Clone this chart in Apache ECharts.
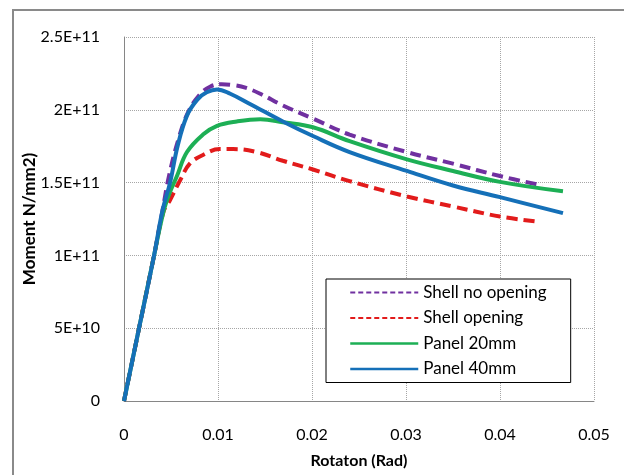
<!DOCTYPE html>
<html>
<head>
<meta charset="utf-8">
<script src="https://cdn.jsdelivr.net/npm/echarts@6/dist/echarts.min.js"></script>
<style>
html,body{margin:0;padding:0;background:#fff;}
#chart{width:624px;height:475px;}
</style>
</head>
<body>
<div id="chart"></div>
<script>
// Data
var seriesNames = ['Shell no opening', 'Shell opening', 'Panel 20mm', 'Panel 40mm'];

var rotShellNo = [0, 0.0016, 0.0032, 0.0041, 0.0048, 0.0058, 0.0068, 0.008, 0.0092, 0.0104, 0.0116, 0.013, 0.0145, 0.0169, 0.0201, 0.024, 0.0301, 0.035, 0.040, 0.0445];
var momShellNo = [0, 5e10, 1e11, 1.31e11, 1.55e11, 1.8e11, 1.98e11, 2.1e11, 2.16e11, 2.175e11, 2.17e11, 2.15e11, 2.11e11, 2.03e11, 1.94e11, 1.83e11, 1.71e11, 1.63e11, 1.545e11, 1.48e11];

var rotShellOpen = [0, 0.0016, 0.0032, 0.0042, 0.0049, 0.006, 0.007, 0.0084, 0.0102, 0.0116, 0.0141, 0.0169, 0.0201, 0.024, 0.0301, 0.035, 0.040, 0.0439];
var momShellOpen = [0, 5e10, 1e11, 1.3e11, 1.38e11, 1.52e11, 1.63e11, 1.69e11, 1.73e11, 1.73e11, 1.71e11, 1.65e11, 1.59e11, 1.51e11, 1.405e11, 1.336e11, 1.267e11, 1.233e11];

var rotPanel20 = [0, 0.0016, 0.0032, 0.0042, 0.0048, 0.0056, 0.0067, 0.0084, 0.0099, 0.012, 0.0145, 0.0169, 0.0201, 0.024, 0.0301, 0.035, 0.040, 0.0467];
var momPanel20 = [0, 5e10, 1e11, 1.3e11, 1.42e11, 1.54e11, 1.71e11, 1.83e11, 1.89e11, 1.92e11, 1.935e11, 1.915e11, 1.88e11, 1.785e11, 1.66e11, 1.58e11, 1.505e11, 1.44e11];

var rotPanel40 = [0, 0.0016, 0.0032, 0.0041, 0.0049, 0.0057, 0.0067, 0.0078, 0.0088, 0.0099, 0.0113, 0.0134, 0.0169, 0.0201, 0.024, 0.0301, 0.035, 0.040, 0.0467];
var momPanel40 = [0, 5e10, 1e11, 1.31e11, 1.5e11, 1.75e11, 1.96e11, 2.07e11, 2.12e11, 2.14e11, 2.11e11, 2.04e11, 1.92e11, 1.82e11, 1.71e11, 1.58e11, 1.48e11, 1.40e11, 1.29e11];

var xTickLabels = ['0', '0.01', '0.02', '0.03', '0.04', '0.05'];
var yTickLabels = ['0', '5E+10', '1E+11', '1.5E+11', '2E+11', '2.5E+11'];

function pairs(xs, ys) {
  var out = [];
  for (var i = 0; i < xs.length; i++) out.push([xs[i], ys[i]]);
  return out;
}

var FONT = 'Lato';
var chart = echarts.init(document.getElementById('chart'), null, {renderer: 'canvas'});

var colors = ['#7030A0', '#E21B1B', '#1DAF55', '#1570B8'];

function mkSeries(name, xs, ys, color, dashed) {
  return {
    name: name,
    type: 'line',
    data: pairs(xs, ys),
    showSymbol: false,
    symbol: 'none',
    smooth: 0.4,
    lineStyle: {color: color, width: 4, type: dashed ? [11, 6] : 'solid', cap: 'butt'},
    itemStyle: {color: color},
    emphasis: {disabled: true},
    animation: false
  };
}

var option = {
  animation: false,
  backgroundColor: '#ffffff',
  graphic: [{
    type: 'rect',
    shape: {x: 13, y: 10, width: 700, height: 600},
    style: {fill: 'none', stroke: '#8a8a8a', lineWidth: 2},
    silent: true,
    z: -10
  }],
  grid: {left: 124, right: 30, top: 37, bottom: 74, containLabel: false},
  xAxis: {
    type: 'value',
    min: 0, max: 0.05, interval: 0.01,
    name: 'Rotaton (Rad)',
    nameLocation: 'middle',
    nameGap: 52,
    nameMoveOverlap: false,
    nameTextStyle: {fontFamily: FONT, fontWeight: 'bold', fontSize: 16, color: '#000'},
    axisLine: {show: true, lineStyle: {color: '#868686', width: 1}},
    axisTick: {show: false},
    axisLabel: {
      fontFamily: FONT, fontSize: 16, color: '#000', margin: 26,
      formatter: function (v) { return xTickLabels[Math.round(v / 0.01)]; }
    },
    splitLine: {show: true, lineStyle: {color: '#a6a6a6', type: [1, 1], width: 1}}
  },
  yAxis: {
    type: 'value',
    min: 0, max: 2.5e11, interval: 5e10,
    name: 'Moment N/mm2)',
    nameLocation: 'middle',
    nameGap: 94,
    nameMoveOverlap: false,
    nameTextStyle: {fontFamily: FONT, fontWeight: 'bold', fontSize: 17, color: '#000', verticalAlign: 'middle'},
    axisLine: {show: true, lineStyle: {color: '#868686', width: 1}},
    axisTick: {show: false},
    axisLabel: {
      fontFamily: FONT, fontSize: 16, color: '#000', margin: 24,
      formatter: function (v) { return yTickLabels[Math.round(v / 5e10)]; }
    },
    splitLine: {show: true, lineStyle: {color: '#a6a6a6', type: [1, 1], width: 1}}
  },
  legend: {
    data: [
      {name: seriesNames[0], lineStyle: {color: colors[0], width: 2, type: [5, 3]}},
      {name: seriesNames[1], lineStyle: {color: colors[1], width: 2, type: [5, 3]}},
      {name: seriesNames[2], lineStyle: {color: colors[2], width: 2.5, type: 'solid'}},
      {name: seriesNames[3], lineStyle: {color: colors[3], width: 2.5, type: 'solid'}}
    ],
    orient: 'vertical',
    left: 326,
    top: 279,
    padding: [5, 24, 5, 23],
    itemWidth: 68,
    itemHeight: 14,
    itemGap: 8.5,
    borderColor: '#000',
    borderWidth: 1,
    backgroundColor: '#fff',
    textStyle: {fontFamily: FONT, fontSize: 17, color: '#000'},
    lineStyle: {width: 2},
    itemStyle: {opacity: 0},
    selectedMode: false
  },
  series: [
    mkSeries(seriesNames[0], rotShellNo, momShellNo, colors[0], true),
    mkSeries(seriesNames[1], rotShellOpen, momShellOpen, colors[1], true),
    mkSeries(seriesNames[2], rotPanel20, momPanel20, colors[2], false),
    mkSeries(seriesNames[3], rotPanel40, momPanel40, colors[3], false)
  ]
};
chart.setOption(option);
</script>
</body>
</html>
